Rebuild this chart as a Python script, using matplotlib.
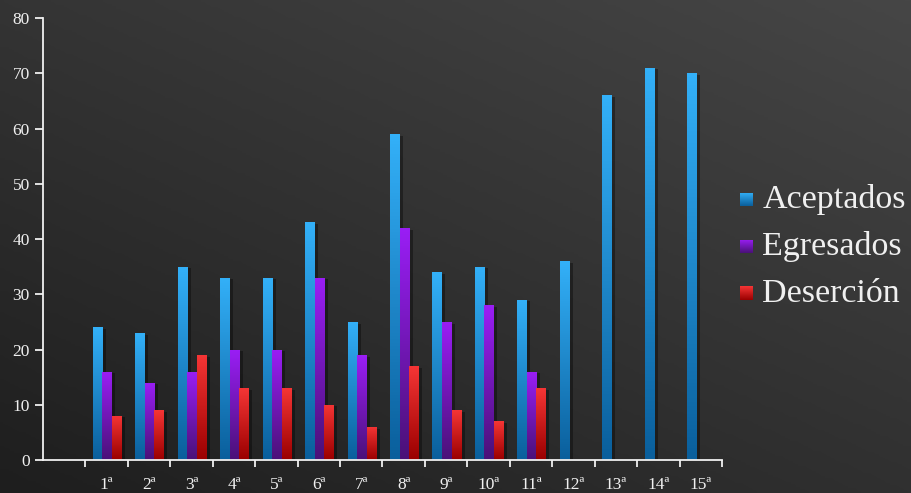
import numpy as np
import matplotlib.pyplot as plt
from matplotlib.colors import LinearSegmentedColormap
from matplotlib.patches import Rectangle

# data
categories = ['1ª', '2ª', '3ª', '4ª', '5ª', '6ª', '7ª', '8ª', '9ª', '10ª',
              '11ª', '12ª', '13ª', '14ª', '15ª']
aceptados = [24, 23, 35, 33, 33, 43, 25, 59, 34, 35, 29, 36, 66, 71, 70]
egresados = [16, 14, 16, 20, 20, 33, 19, 42, 25, 28, 16]
desercion = [8, 9, 19, 13, 13, 10, 6, 17, 9, 7, 13]

series = [
    ('Aceptados', aceptados, -0.21, ('#33b0f8', '#0a5f9c')),
    ('Egresados', egresados, 0.015, ('#9a1ef5', '#4a1178')),
    ('Deserción', desercion, 0.24, ('#f53535', '#9a0000')),
]
width = 0.225
txt = '#f0f0f0'
plt.rcParams['font.family'] = ['Liberation Serif', 'DejaVu Serif']

fig = plt.figure(figsize=(9.12, 4.93), dpi=100)

# dark gradient background
bg = fig.add_axes([0, 0, 1, 1], zorder=-10)
yy, xx = np.mgrid[0:1:200j, 0:1:200j]
grad = 0.55 * yy + 0.45 * xx
bg_cmap = LinearSegmentedColormap.from_list('bg', ['#1e1e1e', '#464646'])
bg.imshow(grad, cmap=bg_cmap, origin='lower', extent=[0, 1, 0, 1], aspect='auto')
bg.axis('off')

ax = fig.add_axes([0.0471, 0.0669, 0.7446, 0.8966])
ax.patch.set_alpha(0)

x = np.arange(1, len(categories) + 1)

def gradient_bar(ax, xc, h, colors):
    cmap = LinearSegmentedColormap.from_list('g', [colors[1], colors[0]])
    # shadow
    sh = Rectangle((xc - width / 2 + 0.08, 0), width, h - 0.3, color='black',
                   alpha=0.35, lw=0, zorder=1)
    ax.add_patch(sh)
    rect = Rectangle((xc - width / 2, 0), width, h, facecolor='none', lw=0, zorder=2)
    ax.add_patch(rect)
    im = ax.imshow(np.linspace(0, 1, 100).reshape(-1, 1), cmap=cmap, origin='lower',
                   extent=[xc - width / 2, xc + width / 2, 0, h], aspect='auto', zorder=2)
    im.set_clip_path(rect)

for name, vals, off, cols in series:
    for i, v in enumerate(vals):
        gradient_bar(ax, x[i] + off, v, cols)

ax.set_xlim(-0.5, 15.5)
ax.set_ylim(0, 80)
ax.set_yticks(range(0, 81, 10))
ax.set_xticks(x)
ax.set_xticklabels(categories)
ax.set_xticks(np.arange(0.5, 16, 1), minor=True)
ax.tick_params(axis='x', which='major', length=0, pad=12, colors=txt, labelsize=12.5)
ax.tick_params(axis='x', which='minor', length=5, width=1.3, color=txt)
ax.tick_params(axis='y', length=6, width=1.3, color=txt, labelcolor=txt, labelsize=12.5)
for s in ['top', 'right']:
    ax.spines[s].set_visible(False)
for s in ['left', 'bottom']:
    ax.spines[s].set_color(txt)
    ax.spines[s].set_linewidth(1.3)

# legend with gradient squares
for k, (name, vals, off, cols) in enumerate(series):
    yl = 0.595 - k * 0.095
    sq = fig.add_axes([0.811, yl - 0.013, 0.014, 0.027])
    sq.imshow(np.linspace(0, 1, 50).reshape(-1, 1),
              cmap=LinearSegmentedColormap.from_list('l', [cols[1], cols[0]]),
              origin='lower', aspect='auto')
    sq.axis('off')
    fig.text(0.836, yl, name, color=txt, fontsize=24.5, va='center', ha='left')

fig.savefig('out.png', dpi=100)
